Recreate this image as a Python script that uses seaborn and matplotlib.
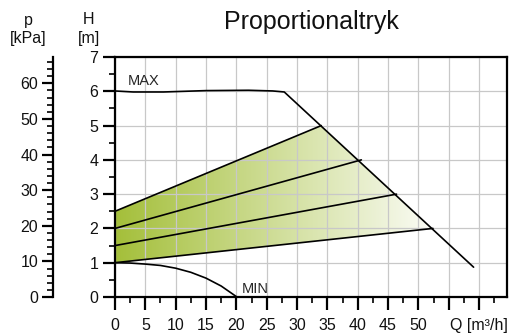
import matplotlib
matplotlib.use('Agg')
import matplotlib.pyplot as plt
import matplotlib.ticker as ticker
from matplotlib.colors import LinearSegmentedColormap
from matplotlib.patches import Polygon
import numpy as np
import seaborn as sns

# Pump curves: Q [m3/h] and H [m]
max_q = [0, 3, 8, 15, 22, 26, 27.9, 59.1]
max_h = [6.01, 5.98, 5.98, 6.02, 6.03, 6.01, 5.98, 0.87]

min_q = [0, 2.5, 5, 7.5, 10, 12.5, 15, 17.5, 20.1]
min_h = [1.0, 0.99, 0.96, 0.92, 0.84, 0.72, 0.55, 0.32, 0.0]

# Proportional pressure curves: start head at Q=0 and end point on MAX
prop_h_start = [1.0, 1.5, 2.0, 2.5]
prop_q_end = [52.4, 46.4, 40.6, 34.0]
prop_h_end = [2.0, 3.0, 4.0, 5.0]

q_ticks = [0, 5, 10, 15, 20, 25, 30, 35, 40, 45, 50, 55, 60]
q_labels = ['0', '5', '10', '15', '20', '25', '30', '35', '40', '45', '50', '', 'Q [m³/h]']
h_ticks = [0, 1, 2, 3, 4, 5, 6, 7]
p_ticks = [0, 10, 20, 30, 40, 50, 60]

Q_MAX, H_MAX, P_MAX = 64.6, 7.0, 67.4
GREEN = '#a4bf3a'

sns.set_style('ticks')
plt.rcParams['font.family'] = ['Liberation Sans', 'DejaVu Sans']

fig = plt.figure(figsize=(5.09, 3.34), dpi=100)
ax = fig.add_axes([0.2259, 0.1108, 0.7701, 0.7185])

# Green -> white gradient clipped to the proportional band
cmap = LinearSegmentedColormap.from_list('band', [GREEN, '#ffffff'])
gradient = np.linspace(0, 1, 256).reshape(1, -1)
image = ax.imshow(gradient, extent=[0, 55, 0, H_MAX], cmap=cmap, aspect='auto',
                  origin='lower', zorder=1)
band = Polygon([(0, prop_h_start[0]), (prop_q_end[0], prop_h_end[0]),
                (prop_q_end[-1], prop_h_end[-1]), (0, prop_h_start[-1])],
               closed=True, facecolor='none', edgecolor='none')
ax.add_patch(band)
image.set_clip_path(band)

# Curves
sns.lineplot(x=max_q, y=max_h, sort=False, color='black', lw=1.2, ax=ax, zorder=3)
sns.lineplot(x=min_q, y=min_h, sort=False, color='black', lw=1.2, ax=ax, zorder=3)
for h0, q1, h1 in zip(prop_h_start, prop_q_end, prop_h_end):
  sns.lineplot(x=[0, q1], y=[h0, h1], sort=False, color='black', lw=1.2, ax=ax, zorder=3)

ax.text(2.1, 6.18, 'MAX', fontsize=10.5, ha='left', va='baseline')
ax.text(20.9, 0.11, 'MIN', fontsize=10.5, ha='left', va='baseline')

# Axes formatting
ax.set_xlim(0, Q_MAX)
ax.set_ylim(0, H_MAX)
ax.set_xticks(q_ticks)
ax.set_xticklabels(q_labels)
ax.set_yticks(h_ticks)
ax.xaxis.set_minor_locator(ticker.MultipleLocator(2.5))
ax.yaxis.set_minor_locator(ticker.MultipleLocator(0.5))
ax.set_axisbelow('line')
ax.grid(True, which='major', color='#c8c8c8', lw=0.9)
for spine in ax.spines.values():
  spine.set_visible(True)
  spine.set_linewidth(1.6)
  spine.set_color('black')
ax.tick_params(which='major', direction='out', length=9, width=1.6, labelsize=11.5,
               color='black', labelcolor='#111111', bottom=True, left=True)
ax.tick_params(which='minor', direction='out', length=4.5, width=1.2, color='black',
               bottom=True, left=True)
ax.tick_params(axis='x', which='major', pad=6)
ax.tick_params(axis='y', which='major', pad=3)

# Pressure axis on the far left
ax2 = ax.twinx()
ax2.set_ylim(0, P_MAX)
ax2.set_yticks(p_ticks)
ax2.yaxis.set_minor_locator(ticker.MultipleLocator(2))
ax2.yaxis.set_ticks_position('left')
ax2.yaxis.set_label_position('left')
for name in ['top', 'bottom', 'right']:
  ax2.spines[name].set_visible(False)
ax2.spines['left'].set_visible(True)
ax2.spines['left'].set_position(('axes', -0.157))
ax2.spines['left'].set_linewidth(1.6)
ax2.spines['left'].set_color('black')
ax2.tick_params(axis='y', which='major', direction='out', length=8, width=1.6,
                labelsize=11.5, color='black', labelcolor='#111111', pad=3)
ax2.tick_params(axis='y', which='minor', direction='out', length=4.5, width=1.2, color='black')

# Axis captions and title
fig.text(89 / 509, 1 - 29 / 334, 'H\n[m]', fontsize=11.5, ha='center', va='center',
         linespacing=1.25, color='#111111')
fig.text(28 / 509, 1 - 29 / 334, 'p\n[kPa]', fontsize=11.5, ha='center', va='center',
         linespacing=1.25, color='#111111')
fig.text(311 / 509, 1 - 29 / 334, 'Proportionaltryk', fontsize=18, ha='center',
         va='baseline', color='#111111')

plt.savefig('out.png', dpi=100)
plt.close()
